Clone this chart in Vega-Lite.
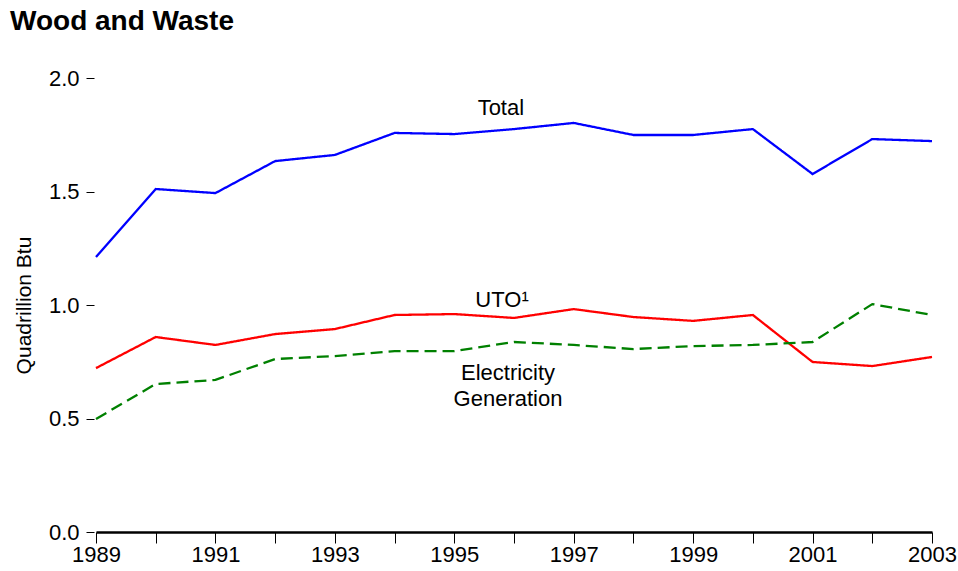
{
  "$schema": "https://vega.github.io/schema/vega-lite/v6.json",
  "autosize": "none",
  "width": 836,
  "height": 454,
  "padding": {"left": 96, "top": 78, "right": 26, "bottom": 39},
  "background": "white",
  "config": {"font": "Liberation Sans", "view": {"stroke": null}},
  "title": {"text": "Wood and Waste", "anchor": "start", "frame": "group", "dx": -86, "offset": 31, "fontSize": 28, "fontWeight": "bold", "font": "Liberation Sans", "color": "black"},
  "datasets": {
    "series": [
      {"year": 1989, "series": "Total", "value": 1.211},
      {"year": 1990, "series": "Total", "value": 1.511},
      {"year": 1991, "series": "Total", "value": 1.493},
      {"year": 1992, "series": "Total", "value": 1.634},
      {"year": 1993, "series": "Total", "value": 1.661},
      {"year": 1994, "series": "Total", "value": 1.758},
      {"year": 1995, "series": "Total", "value": 1.753},
      {"year": 1996, "series": "Total", "value": 1.775},
      {"year": 1997, "series": "Total", "value": 1.802},
      {"year": 1998, "series": "Total", "value": 1.749},
      {"year": 1999, "series": "Total", "value": 1.749},
      {"year": 2000, "series": "Total", "value": 1.775},
      {"year": 2001, "series": "Total", "value": 1.577},
      {"year": 2002, "series": "Total", "value": 1.731},
      {"year": 2003, "series": "Total", "value": 1.722},
      {"year": 1989, "series": "UTO", "value": 0.722},
      {"year": 1990, "series": "UTO", "value": 0.859},
      {"year": 1991, "series": "UTO", "value": 0.824},
      {"year": 1992, "series": "UTO", "value": 0.872},
      {"year": 1993, "series": "UTO", "value": 0.894},
      {"year": 1994, "series": "UTO", "value": 0.956},
      {"year": 1995, "series": "UTO", "value": 0.960},
      {"year": 1996, "series": "UTO", "value": 0.943},
      {"year": 1997, "series": "UTO", "value": 0.982},
      {"year": 1998, "series": "UTO", "value": 0.947},
      {"year": 1999, "series": "UTO", "value": 0.930},
      {"year": 2000, "series": "UTO", "value": 0.956},
      {"year": 2001, "series": "UTO", "value": 0.749},
      {"year": 2002, "series": "UTO", "value": 0.731},
      {"year": 2003, "series": "UTO", "value": 0.771},
      {"year": 1989, "series": "Electricity", "value": 0.498},
      {"year": 1990, "series": "Electricity", "value": 0.652},
      {"year": 1991, "series": "Electricity", "value": 0.670},
      {"year": 1992, "series": "Electricity", "value": 0.762},
      {"year": 1993, "series": "Electricity", "value": 0.775},
      {"year": 1994, "series": "Electricity", "value": 0.797},
      {"year": 1995, "series": "Electricity", "value": 0.797},
      {"year": 1996, "series": "Electricity", "value": 0.837},
      {"year": 1997, "series": "Electricity", "value": 0.824},
      {"year": 1998, "series": "Electricity", "value": 0.806},
      {"year": 1999, "series": "Electricity", "value": 0.819},
      {"year": 2000, "series": "Electricity", "value": 0.824},
      {"year": 2001, "series": "Electricity", "value": 0.837},
      {"year": 2002, "series": "Electricity", "value": 1.004},
      {"year": 2003, "series": "Electricity", "value": 0.956}
    ],
    "labels": [
      {"year": 1995.78, "value": 1.868, "label": "Total"},
      {"year": 1995.8, "value": 1.022, "label": "UTO¹"},
      {"year": 1995.9, "value": 0.700, "label": "Electricity"},
      {"year": 1995.9, "value": 0.586, "label": "Generation"}
    ]
  },
  "layer": [
    {
      "data": {"name": "series"},
      "mark": {"type": "line", "strokeWidth": 2.3},
      "encoding": {
        "x": {"field": "year", "type": "quantitative",
          "scale": {"domain": [1989, 2003], "nice": false, "zero": false},
          "axis": {"title": null, "values": [1989,1990,1991,1992,1993,1994,1995,1996,1997,1998,1999,2000,2001,2002,2003],
            "labelExpr": "datum.value % 2 == 1 ? format(datum.value, 'd') : ''",
            "grid": false, "domainColor": "black", "domainWidth": 2.5, "tickColor": "black", "tickWidth": 1, "tickSize": 11,
            "labelFontSize": 22, "labelColor": "black", "labelPadding": 1, "labelFont": "Liberation Sans", "labelOverlap": false, "labelFlush": false}},
        "y": {"field": "value", "type": "quantitative",
          "scale": {"domain": [0, 2], "nice": false},
          "axis": {"title": "Quadrillion Btu", "values": [0, 0.5, 1, 1.5, 2], "format": ".1f", "grid": false, "domain": false,
            "tickColor": "black", "tickWidth": 1, "tickSize": 8, "offset": 2,
            "labelFontSize": 22, "labelColor": "black", "labelPadding": 7, "labelFont": "Liberation Sans",
            "titleFontSize": 21, "titleFontWeight": "normal", "titleColor": "black", "titleFont": "Liberation Sans", "titlePadding": 14}},
        "color": {"field": "series", "type": "nominal",
          "scale": {"domain": ["Total", "UTO", "Electricity"], "range": ["#0000ff", "#ff0000", "#008000"]}, "legend": null},
        "strokeDash": {"field": "series", "type": "nominal",
          "scale": {"domain": ["Total", "UTO", "Electricity"], "range": [[1, 0], [1, 0], [12, 6]]}, "legend": null}
      }
    },
    {
      "data": {"name": "labels"},
      "mark": {"type": "text", "fontSize": 22, "font": "Liberation Sans", "color": "black", "align": "center", "baseline": "middle"},
      "encoding": {
        "x": {"field": "year", "type": "quantitative"},
        "y": {"field": "value", "type": "quantitative"},
        "text": {"field": "label"}
      }
    }
  ]
}
